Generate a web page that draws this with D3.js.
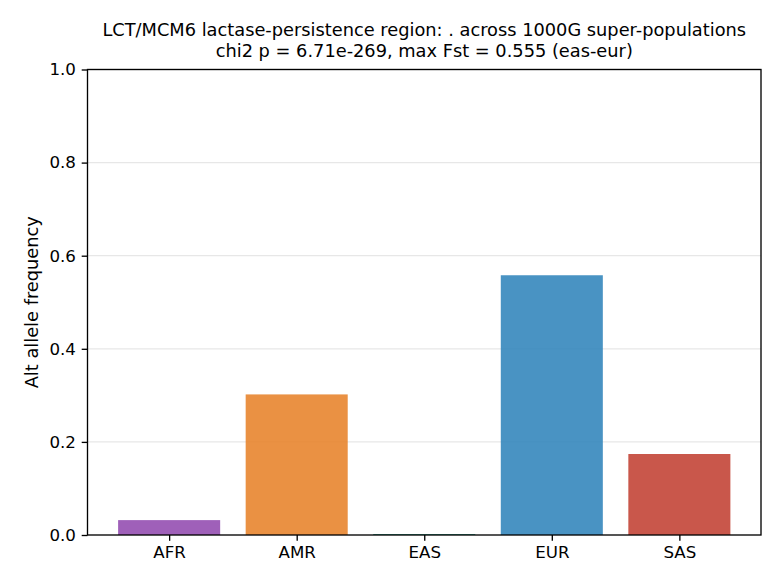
<!DOCTYPE html>
<html><head><meta charset="utf-8">
<script src="https://cdn.jsdelivr.net/npm/d3@7"></script>
<style>body{margin:0;background:#fff}text{font-family:"DejaVu Sans",sans-serif;fill:#000}</style>
</head><body><svg id="c" width="780" height="585"></svg>
<script>
const categories = ["AFR","AMR","EAS","EUR","SAS"];
const values = [0.032, 0.302, 0.002, 0.558, 0.174];
const colors = ["#8e44ad","#e67e22","#138d75","#2980b9","#c0392b"];
const yTicks = [0,0.2,0.4,0.6,0.8,1.0];
const titleLines = ["LCT/MCM6 lactase-persistence region: . across 1000G super-populations","chi2 p = 6.71e-269, max Fst = 0.555 (eas-eur)"];
const yLabel = "Alt allele frequency";

const svg = d3.select("#c");
const L=87.5, R=761, T=69.5, B=535;
const x = d3.scaleLinear().domain([-0.64, 4.64]).range([L,R]);
const y = d3.scaleLinear().domain([0,1]).range([B,T]);
const fs = 16.67, tfs = 17.8;

// grid
svg.append("g").selectAll("line").data(yTicks.filter(d=>d>0)).join("line")
  .attr("x1",L).attr("x2",R).attr("y1",d=>y(d)).attr("y2",d=>y(d))
  .attr("stroke","#b0b0b0").attr("stroke-opacity",0.3).attr("stroke-width",1.33);

// bars
svg.append("g").selectAll("rect").data(values).join("rect")
  .attr("x",(d,i)=>x(i-0.4)).attr("width",(d,i)=>x(i+0.4)-x(i-0.4))
  .attr("y",d=>y(d)).attr("height",d=>B-y(d))
  .attr("fill",(d,i)=>colors[i]).attr("fill-opacity",0.85);

// axes
const ya = d3.axisLeft(y).tickValues(yTicks).tickFormat(d3.format(".1f")).tickSize(5.8).tickPadding(5.8);
const gy = svg.append("g").attr("transform",`translate(${L},0)`).call(ya);
const xa = d3.axisBottom(x).tickValues(d3.range(categories.length)).tickFormat(i=>categories[i]).tickSize(5.8).tickPadding(5.8);
const gx = svg.append("g").attr("transform",`translate(0,${B})`).call(xa);
[gx,gy].forEach(g=>{g.select(".domain").remove();g.selectAll("text").attr("font-size",fs).style("font-family","DejaVu Sans");g.selectAll("line").attr("stroke","#000").attr("stroke-width",1.33);});

// frame
svg.append("rect").attr("x",L).attr("y",T).attr("width",R-L).attr("height",B-T)
  .attr("fill","none").attr("stroke","#000").attr("stroke-width",1.33);

// title
svg.append("g").selectAll("text").data(titleLines).join("text")
  .attr("x",(L+R)/2).attr("y",(d,i)=>36+i*21).attr("text-anchor","middle").attr("font-size",tfs).text(d=>d);

// y label
svg.append("text").attr("transform",`translate(37.5,${(T+B)/2}) rotate(-90)`).attr("text-anchor","middle").attr("font-size",tfs).text(yLabel);
</script></body></html>
